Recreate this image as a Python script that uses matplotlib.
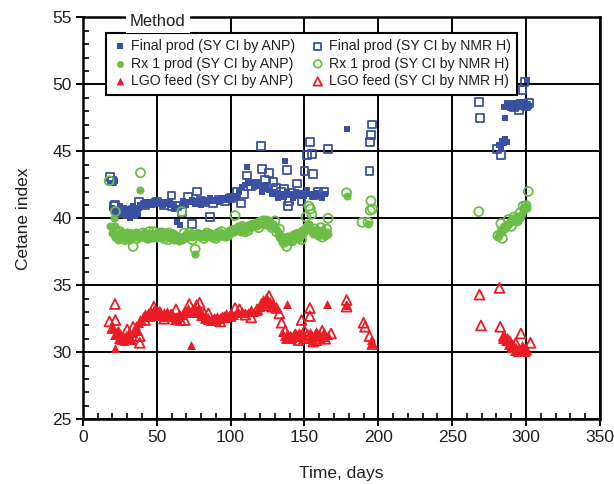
import matplotlib
matplotlib.use("Agg")
import matplotlib.pyplot as plt
from matplotlib.ticker import MultipleLocator

plt.rcParams['font.family'] = ['Liberation Sans', 'DejaVu Sans']

# ---- Final product, SY CI by ANP (filled squares) ----
final_anp_days = [19, 20, 21, 22, 22, 23, 24, 25, 26, 27, 28, 29, 30, 31, 32, 33, 34, 35, 36, 37,
                  38, 39, 40, 41, 42, 43, 44, 45, 46, 47, 48, 50, 52, 54, 55, 57, 59, 60, 62, 63,
                  64, 66, 67, 68, 70, 72, 74, 76, 78, 80, 82, 84, 86, 88, 90, 92, 94, 96, 98, 100,
                  102, 104, 106, 108, 110, 111, 112, 114, 116, 118, 120, 121, 122, 124, 126, 128,
                  130, 132, 134, 136, 137, 138, 140, 142, 144, 146, 148, 150, 152, 154, 156, 158,
                  160, 162, 164, 179,
                  282, 283, 284, 285, 286, 287, 286, 285, 287, 289, 290, 291, 292, 293, 294, 295,
                  296, 297, 298, 299, 300, 301, 302]
final_anp_ci = [42.6, 40.8, 40.5, 42.8, 40.2, 40.7, 40.4, 40.9, 40.3, 40.6, 40.8, 40.2, 40.5, 40.7,
                40.0, 40.4, 40.9, 40.2, 40.6, 40.3, 40.8, 41.0, 40.9, 41.1, 41.2, 41.0, 41.2, 41.1,
                41.2, 41.0, 41.3, 41.1, 41.2, 41.0, 41.2, 41.1, 41.3, 41.0, 40.7, 40.8, 39.7, 39.5,
                41.0, 41.3, 41.0, 41.2, 41.4, 41.1, 41.3, 41.0, 41.4, 41.2, 41.5, 41.3, 41.4, 41.2,
                41.5, 41.4, 41.6, 41.5, 41.7, 41.6, 42.0, 42.3, 42.5, 43.8, 42.8, 42.6, 42.3, 42.7,
                42.4, 42.0, 42.2, 42.5, 42.1, 41.8, 42.0, 41.5, 41.8, 41.6, 44.3, 42.0, 41.8, 41.5,
                42.0, 41.7, 41.9, 41.7, 42.1, 41.8, 41.6, 41.9, 41.7, 41.5, 41.8, 46.7,
                45.5, 45.3, 45.8, 45.6, 45.9, 45.7, 47.5, 48.3, 48.6, 48.2, 48.5, 48.3, 48.6, 48.2,
                48.5, 48.7, 48.3, 48.5, 48.4, 48.7, 48.5, 50.3, 48.4]

# ---- Final product, SY CI by NMR H (open squares) ----
final_nmr_days = [18.4, 19.5, 21, 22, 24, 27, 31, 34, 38, 42, 46, 50, 55, 60, 60.5, 64, 67, 71, 74,
                  77, 80, 83, 86, 88, 92, 96, 100, 104, 107, 109, 111, 114, 117, 120.5, 121, 123,
                  126, 129, 131, 134, 136, 138, 139, 139.5, 141, 145, 148, 150, 152, 154, 155, 156,
                  156.5, 159, 163, 166, 194, 194.5, 195, 196, 268, 269, 280.5, 283, 289, 292, 295,
                  297.6, 299, 300, 302]
final_nmr_ci = [43.1, 42.8, 40.9, 41.0, 40.5, 40.4, 40.3, 40.6, 41.2, 41.0, 41.1, 41.2, 41.0, 41.7,
                40.9, 40.9, 40.5, 41.6, 39.6, 42.0, 41.3, 41.2, 40.1, 41.1, 41.4, 41.3, 41.5, 42.0,
                41.1, 41.8, 43.2, 42.4, 42.6, 45.4, 43.7, 42.9, 43.4, 42.7, 42.3, 42.0, 42.2, 43.6,
                40.9, 41.3, 41.9, 42.6, 41.3, 43.5, 44.7, 45.7, 44.8, 43.3, 41.7, 42.0, 42.0, 45.2,
                43.5, 45.7, 46.2, 47.0, 48.7, 47.5, 45.2, 44.7, 48.5, 48.3, 48.1, 49.6, 50.2, 48.4,
                48.6]

# ---- Rx 1 product, SY CI by ANP (filled circles) ----
rx1_anp_days = [18.5, 20, 21, 21, 22, 22, 23, 24, 25, 26, 27, 28, 29, 30, 31, 32, 33, 34, 35, 36,
                37, 38, 39, 40, 41, 42, 43, 44, 45, 46, 47, 48, 49, 50, 51, 52, 53, 54, 55, 56,
                57, 58, 59, 60, 61, 62, 63, 64, 65, 66, 67, 68, 69, 70, 71, 72, 73, 74, 75, 76,
                77, 78, 79, 80, 81, 82, 83, 84, 85, 86, 87, 88, 89, 90, 91, 92, 93, 94, 95, 96,
                97, 98, 99, 100, 101, 102, 103, 104, 105, 106, 107, 108, 109, 110, 111, 112, 113,
                114, 115, 116, 117, 118, 119, 120, 121, 122, 123, 124, 125, 126, 127, 128, 129,
                130, 131, 132, 133, 134, 135, 136, 137, 138, 139, 140, 141, 142, 143, 144, 145,
                146, 147, 148, 149, 150, 151, 152, 153, 154, 155, 156, 157, 158, 159, 160, 161,
                162, 163, 164, 165, 166, 178.5, 193,
                281, 282, 283, 284, 285, 286, 287, 288, 289, 290, 291, 292, 293, 294, 295, 296,
                297, 298, 299, 300, 301]
rx1_anp_ci = [39.4, 38.9, 39.4, 40.0, 38.6, 39.4, 38.8, 38.4, 38.7, 39.0, 38.5, 38.8, 38.6, 39.0,
              38.7, 38.4, 38.9, 38.6, 38.8, 39.0, 38.7, 38.5, 42.1, 38.8, 38.6, 38.9, 38.7, 38.5,
              38.8, 38.6, 38.9, 38.7, 38.8, 38.6, 39.0, 38.7, 38.9, 38.6, 38.8, 38.7, 38.9, 38.5,
              38.7, 38.9, 38.6, 38.4, 38.7, 38.5, 38.3, 38.6, 38.4, 38.7, 38.5, 38.8, 38.6, 38.7,
              38.9, 38.6, 38.8, 37.3, 38.7, 38.9, 38.6, 38.8, 38.7, 38.9, 38.6, 38.8, 38.7, 38.9,
              38.6, 38.8, 38.7, 38.9, 38.6, 38.8, 38.7, 38.9, 38.8, 38.6, 38.9, 38.7, 39.0, 38.9,
              39.2, 39.0, 39.3, 39.1, 39.4, 39.2, 39.0, 39.3, 39.1, 39.4, 39.2, 39.5, 39.3, 39.4,
              39.6, 39.5, 39.7, 39.4, 39.8, 39.6, 39.9, 39.7, 39.5, 39.8, 39.6, 39.9, 39.7, 39.5,
              39.6, 39.4, 39.2, 39.0, 38.8, 38.5, 38.3, 38.6, 38.2, 38.4, 38.7, 38.5, 38.3, 38.6,
              38.8, 38.5, 38.7, 38.9, 38.6, 39.0, 38.8, 39.2, 39.4, 39.1, 39.6, 39.3, 39.0, 38.8,
              39.1, 38.9, 38.7, 39.0, 38.8, 39.1, 38.9, 38.7, 39.0, 38.8, 41.7, 39.6,
              38.6, 38.9, 39.2, 39.0, 39.4, 39.3, 39.6, 39.5, 39.8, 39.7, 40.0, 39.8, 40.1, 39.9,
              40.2, 40.0, 40.3, 40.8, 40.7, 40.9, 40.8]

# ---- Rx 1 product, SY CI by NMR H (open circles) ----
rx1_nmr_days = [17.8, 22, 23, 25, 27, 30, 34, 39, 42, 45, 48, 52, 55, 58, 62, 67, 70, 72, 76, 80,
                84, 88, 92, 96, 100, 103, 106, 110, 113, 117, 120, 122, 125, 128, 131, 134, 136,
                138, 140, 143, 146, 149, 151, 153, 154, 155, 157, 159, 161, 163, 166, 178.5, 189,
                193, 194.5, 195, 196, 268, 281, 283, 284, 286, 288, 290, 292, 294, 296, 298, 300,
                301.5,
                24, 28.5, 32, 36.5, 40.5, 44, 47.5, 50.5, 54, 57.5, 60.5, 64.5, 68.5, 74, 78, 82,
                86, 90, 94, 98, 102, 108, 112, 115, 119, 124, 127, 130, 133, 141.5, 145, 148, 152,
                158, 162, 165]
rx1_nmr_ci = [42.8, 40.5, 38.6, 39.0, 38.7, 38.5, 37.9, 43.4, 38.8, 39.0, 38.6, 38.9, 38.5, 38.9,
              38.7, 40.5, 38.6, 38.9, 37.7, 38.7, 38.9, 38.6, 38.9, 38.7, 39.0, 40.2, 39.3, 39.0,
              39.4, 39.5, 39.7, 39.8, 39.6, 39.3, 39.0, 38.6, 38.2, 37.9, 38.4, 38.7, 38.5, 39.0,
              40.1, 40.9, 40.7, 40.3, 39.2, 38.9, 39.3, 38.8, 40.0, 41.9, 39.7, 39.7, 40.6, 41.3,
              40.7, 40.5, 38.7, 39.6, 38.5, 39.3, 39.9, 39.4, 40.1, 39.8, 40.4, 40.9, 40.95, 42.0,
              38.9, 38.4, 38.8, 38.5, 38.9, 38.5, 39.0, 38.6, 38.9, 38.4, 38.8, 38.5, 38.9, 38.4,
              38.8, 38.5, 38.8, 38.5, 39.0, 38.7, 39.1, 39.4, 39.1, 39.5, 39.3, 39.8, 39.5, 39.8,
              39.2, 38.3, 38.8, 38.4, 39.3, 39.0, 38.6, 39.2]

# ---- LGO feed, SY CI by ANP (filled triangles) ----
lgo_anp_days = [20, 21, 22, 23, 24, 25, 26, 27, 28, 29, 30, 31, 32, 33, 34, 35, 36, 37, 38, 39,
                40, 41, 42, 43, 44, 45, 46, 47, 48, 49, 50, 51, 52, 53, 54, 55, 56, 57, 58, 59,
                60, 61, 62, 63, 64, 65, 66, 67, 68, 69, 70, 71, 72, 73, 74, 75, 76, 77, 78, 79,
                80, 81, 82, 83, 84, 85, 86, 87, 88, 89, 90, 91, 92, 93, 94, 95, 96, 97, 98, 99,
                100, 102, 104, 106, 108, 110, 112, 114, 116, 118, 120, 121, 122, 123, 124, 125,
                126, 127, 128, 129, 130, 138.5, 135, 136, 137, 138, 139, 140, 141, 142, 143, 144,
                145, 146, 147, 148, 149, 150, 153, 154, 155, 156, 157, 158, 159, 160, 161, 162,
                163, 164, 165.5, 166, 178.5, 195, 196,
                284, 285, 286, 287, 288, 289, 290, 291, 292, 293, 294, 295, 296, 297, 298, 299, 300]
lgo_anp_ci = [31.8, 31.3, 30.3, 31.6, 31.0, 31.4, 30.9, 31.2, 30.8, 31.3, 31.0, 31.5, 31.2, 30.9,
              31.4, 31.8, 32.0, 31.6, 32.2, 32.5, 32.3, 32.7, 32.9, 32.6, 33.0, 32.8, 33.1, 32.9,
              33.2, 32.7, 33.0, 32.8, 33.1, 32.9, 32.6, 33.0, 32.8, 33.1, 32.7, 32.9, 32.6, 32.8,
              32.4, 32.7, 32.5, 32.9, 32.6, 32.8, 33.0, 33.2, 32.9, 33.3, 33.0, 30.5, 33.2, 33.4,
              32.9, 33.1, 33.3, 32.7, 33.0, 32.8, 32.5, 32.7, 32.4, 32.6, 32.3, 32.5, 32.4, 32.6,
              32.5, 32.7, 32.5, 32.6, 32.8, 32.6, 32.7, 32.9, 32.7, 32.8, 33.0, 32.8, 33.0, 32.9,
              33.1, 32.9, 33.0, 33.2, 33.0, 33.1, 33.4, 33.7, 34.0, 33.8, 34.1, 33.9, 33.6, 33.8,
              33.5, 33.7, 33.4, 33.6, 31.5, 31.2, 31.0, 31.4, 31.1, 31.3, 31.0, 31.2, 31.4, 31.1,
              31.3, 31.5, 31.2, 31.0, 31.4, 31.2, 31.0, 31.5, 31.3, 30.9, 31.4, 31.6, 31.2, 31.4,
              31.0, 31.3, 31.5, 31.1, 33.6, 31.3, 33.5, 30.9, 30.7,
              31.0, 31.3, 30.8, 31.1, 30.5, 30.9, 30.3, 30.6, 30.1, 30.4, 30.0, 30.3, 30.1, 30.5,
              30.2, 30.4, 30.0]

# ---- LGO feed, SY CI by NMR H (open triangles) ----
lgo_nmr_days = [18, 20, 21.7, 22, 24, 26, 30, 34, 38.5, 38.5, 45, 52, 60, 66, 72, 79, 82, 90, 96,
                103, 110, 118, 124, 128, 133, 134.5, 137, 141, 144, 148, 152, 153.7, 153.7, 156,
                160, 164, 168, 178.5, 178.5, 190, 191, 194, 196, 268.5, 269.5, 282, 282.5, 285,
                288, 291, 293, 296.5, 298, 300, 303,
                42, 48, 55, 63, 69, 75, 77, 85, 93, 100, 106, 114, 121, 126, 131, 139, 146, 150,
                158, 162]
lgo_nmr_ci = [32.3, 31.8, 33.6, 32.4, 31.5, 31.0, 31.7, 31.9, 31.2, 30.7, 32.7, 33.0, 32.8, 32.4,
              33.6, 33.7, 32.9, 32.4, 32.6, 33.3, 32.8, 33.2, 33.5, 33.4, 32.9, 32.2, 31.6, 31.1,
              31.3, 32.4, 31.3, 33.3, 32.7, 30.8, 31.2, 31.0, 31.4, 33.9, 33.4, 32.2, 31.9, 31.2,
              30.6, 34.3, 32.0, 34.8, 31.9, 31.2, 30.9, 30.5, 30.7, 31.4, 30.3, 30.2, 30.7,
              32.4, 33.4, 32.5, 33.2, 32.4, 33.0, 33.5, 32.9, 32.3, 32.7, 33.2, 32.6, 33.6, 34.2,
              33.3, 31.1, 30.9, 31.6, 30.9, 31.6]

BLUE = '#3a51a3'
GREEN = '#6cbd45'
RED = '#ec1c24'
INK = '#231f20'

fig = plt.figure(figsize=(6.14, 4.84), dpi=100)
ax = fig.add_axes([0.135, 0.134, 0.842, 0.830])

ax.scatter(final_anp_days, final_anp_ci, marker='s', s=24, color=BLUE, linewidths=0, zorder=3,
           label='Final prod (SY CI by ANP)')
ax.scatter(rx1_anp_days, rx1_anp_ci, marker='o', s=34, color=GREEN, linewidths=0, zorder=3,
           label='Rx 1 prod (SY CI by ANP)')
ax.scatter(lgo_anp_days, lgo_anp_ci, marker='^', s=42, color=RED, linewidths=0, zorder=3,
           label='LGO feed (SY CI by ANP)')
ax.scatter(final_nmr_days, final_nmr_ci, marker='s', s=32, facecolors='none', edgecolors=BLUE,
           linewidths=1.3, zorder=3, label='Final prod (SY CI by NMR H)')
ax.scatter(rx1_nmr_days, rx1_nmr_ci, marker='o', s=42, facecolors='none', edgecolors=GREEN,
           linewidths=1.3, zorder=3, label='Rx 1 prod (SY CI by NMR H)')
ax.scatter(lgo_nmr_days, lgo_nmr_ci, marker='^', s=50, facecolors='none', edgecolors=RED,
           linewidths=1.3, zorder=3, label='LGO feed (SY CI by NMR H)')

ax.set_xlim(0, 350)
ax.set_ylim(25, 55)
ax.xaxis.set_major_locator(MultipleLocator(50))
ax.xaxis.set_minor_locator(MultipleLocator(10))
ax.yaxis.set_major_locator(MultipleLocator(5))
ax.yaxis.set_minor_locator(MultipleLocator(1))
ax.grid(True, which='major', color='black', linewidth=1.4, zorder=1)
ax.set_axisbelow(True)

for sp in ax.spines.values():
    sp.set_linewidth(1.8)
    sp.set_color('black')

ax.tick_params(which='major', direction='out', length=5, width=1.4, colors='black',
               labelcolor=INK, labelsize=12.5, pad=3)
ax.tick_params(which='minor', direction='in', length=4, width=1.2, colors='black')

ax.set_xlabel('Time, days', fontsize=12.5, color=INK, labelpad=15)
ax.set_ylabel('Cetane index', fontsize=12.5, color=INK, labelpad=15)

leg = ax.legend(ncol=2, loc='upper left', bbox_to_anchor=(0.045, 0.962), borderaxespad=0,
                fontsize=10.2, frameon=True, fancybox=False, shadow=False,
                handletextpad=0.3, columnspacing=1.1, labelspacing=0.25,
                borderpad=0.45, handlelength=1.0, markerscale=0.85)
leg.get_frame().set_edgecolor('black')
leg.get_frame().set_linewidth(1.5)
leg.get_frame().set_alpha(1)
for t in leg.get_texts():
    t.set_color(INK)
leg.set_zorder(5)

ax.text(0.145, 0.99, 'Method', transform=ax.transAxes, ha='center', va='center',
        fontsize=12, color=INK, zorder=6, clip_on=False,
        bbox=dict(facecolor='white', edgecolor='none', pad=3))

fig.savefig('out.png', dpi=100)
